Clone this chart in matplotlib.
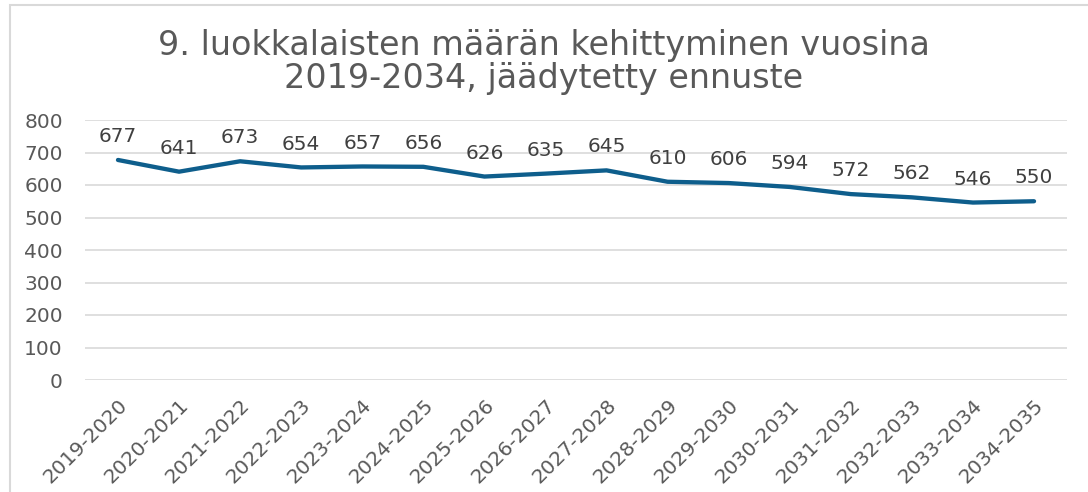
import matplotlib.pyplot as plt
from matplotlib.patches import Rectangle

# lukuvuodet ja 9. luokkalaisten määrät
years = ['2019-2020', '2020-2021', '2021-2022', '2022-2023', '2023-2024',
         '2024-2025', '2025-2026', '2026-2027', '2027-2028', '2028-2029',
         '2029-2030', '2030-2031', '2031-2032', '2032-2033', '2033-2034',
         '2034-2035']
pupils = [677, 641, 673, 654, 657, 656, 626, 635, 645, 610, 606, 594,
          572, 562, 546, 550]
yticks = [0, 100, 200, 300, 400, 500, 600, 700, 800]

plt.rcParams['font.family'] = 'DejaVu Sans'
fig = plt.figure(figsize=(10.88, 4.92), dpi=100)
ax = fig.add_axes([85 / 1088, 1 - 380 / 492, 982 / 1088, 260 / 492])

x = list(range(len(years)))
ax.plot(x, pupils, color='#0E5E8C', linewidth=3.1, solid_capstyle='round',
        solid_joinstyle='round', zorder=3)
for xi, v in zip(x, pupils):
    ax.annotate(str(v), (xi, v), xytext=(0, 10), textcoords='offset points',
                ha='center', va='bottom', fontsize=14.5, color='#404040')

ax.set_xlim(-0.54, len(years) - 0.46)
ax.set_ylim(0, 800)
ax.set_yticks(yticks)
ax.set_xticks(x)
ax.set_xticklabels(years, rotation=45, ha='right', rotation_mode='anchor')
ax.tick_params(axis='both', length=0, labelsize=14.5, colors='#595959')
ax.tick_params(axis='x', pad=11)
ax.tick_params(axis='y', pad=16)
ax.grid(axis='y', color='#D9D9D9', linewidth=1.2)
ax.set_axisbelow(True)
for s in ax.spines.values():
    s.set_visible(False)

fig.text(0.5, 1 - 62 / 492, '9. luokkalaisten määrän kehittyminen vuosina\n'
         '2019-2034, jäädytetty ennuste', ha='center', va='center',
         fontsize=24, color='#595959', linespacing=1.03)

# kaavion kehys
fig.patches.append(Rectangle((10 / 1088, -0.05), 1.1, 1 - 5 / 492 + 0.05,
                             transform=fig.transFigure, fill=False,
                             edgecolor='#D9D9D9', linewidth=1.5))

fig.savefig('out.png', dpi=100)
